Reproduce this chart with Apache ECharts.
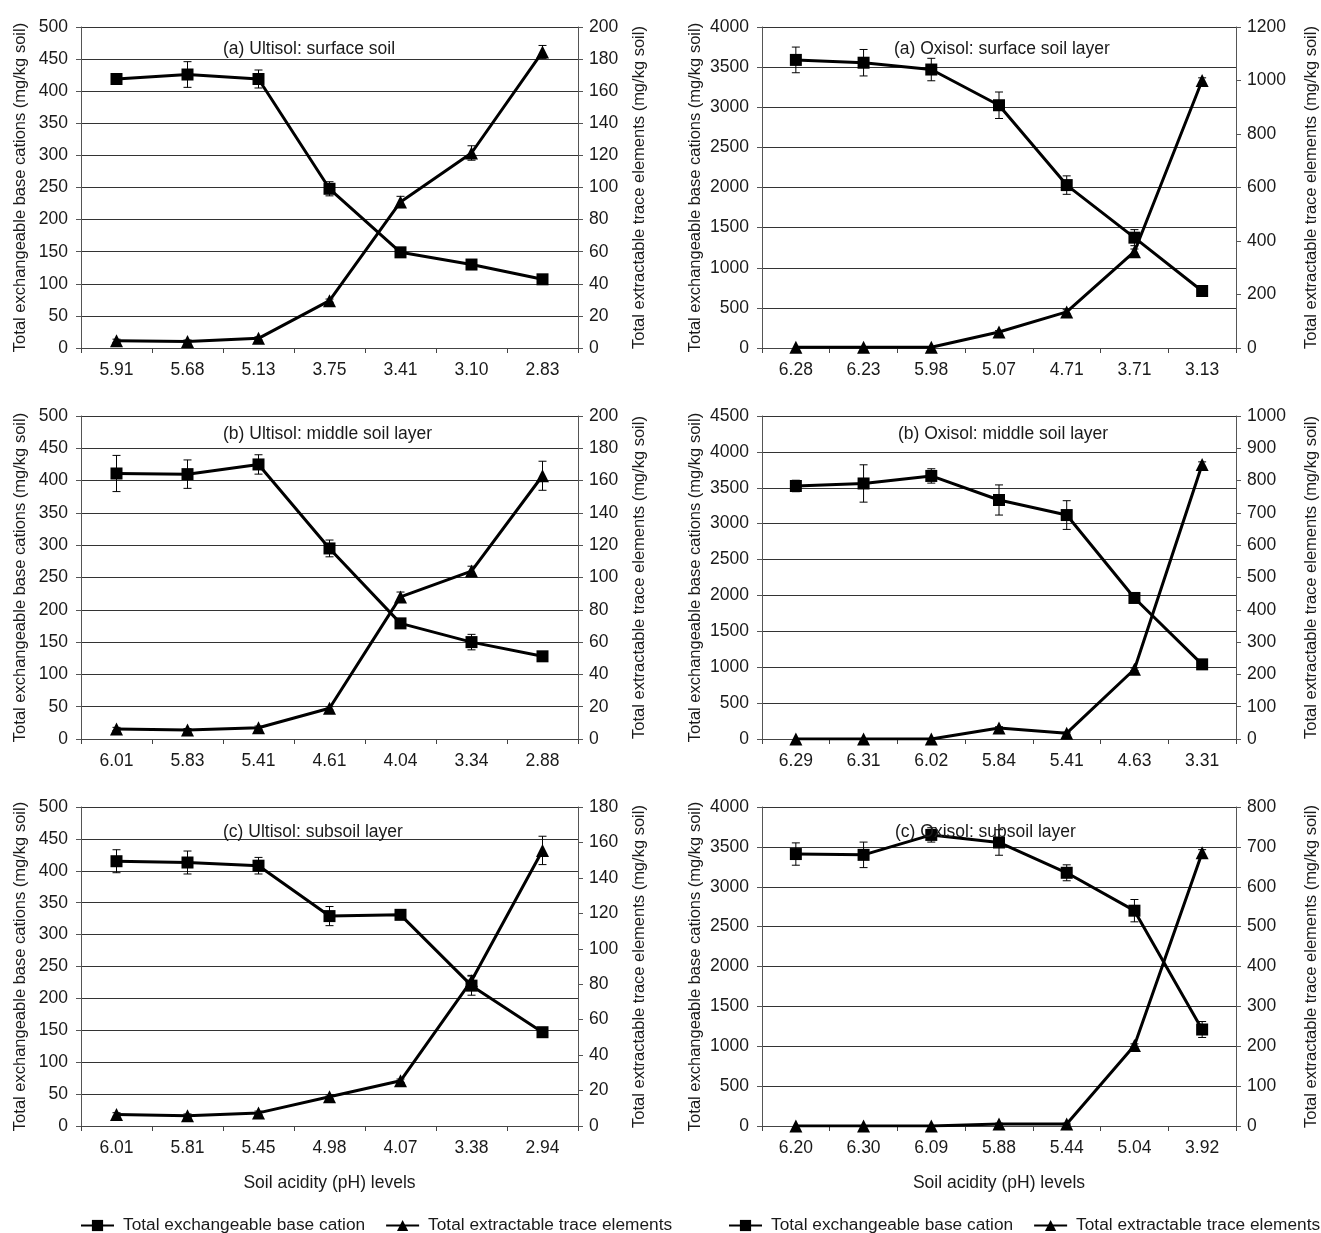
<!DOCTYPE html>
<html>
<head>
<meta charset="utf-8">
<script src="https://cdn.jsdelivr.net/npm/echarts@6/dist/echarts.min.js"></script>
<style>
html,body{margin:0;padding:0;background:#fff;}
#chart{width:1321px;height:1233px;}
</style>
</head>
<body>
<div id="chart"></div>
<script>
// ---------- DATA ----------
const baseName = 'Total exchangeable base cation';
const traceName = 'Total extractable trace elements';
const leftAxisName = 'Total exchangeable base cations (mg/kg soil)';
const rightAxisName = 'Total extractable trace elements (mg/kg soil)';
const xAxisName = 'Soil acidity (pH) levels';

const titles = ['(a) Ultisol: surface soil', '(a) Oxisol: surface soil layer',
  '(b) Ultisol: middle soil layer', '(b) Oxisol: middle soil layer',
  '(c) Ultisol: subsoil layer', '(c) Oxisol: subsoil layer'];

// Ultisol surface
const cats1 = ['5.91','5.68','5.13','3.75','3.41','3.10','2.83'];
const base1 = [419, 426, 419, 248, 149, 130, 107];
const baseErr1 = [5, 20, 14, 11, 4, 5, 4];
const trace1 = [4.5, 4, 6, 29.5, 91, 121.5, 184.5];
const traceErr1 = [1, 1, 1, 1, 3.5, 4.5, 4];
// Oxisol surface
const cats2 = ['6.28','6.23','5.98','5.07','4.71','3.71','3.13'];
const base2 = [3590, 3555, 3470, 3025, 2030, 1375, 710];
const baseErr2 = [160, 165, 140, 165, 115, 100, 30];
const trace2 = [3, 3, 3, 60, 135, 360, 1000];
const traceErr2 = [0, 0, 0, 5, 8, 10, 10];
// Ultisol middle
const cats3 = ['6.01','5.83','5.41','4.61','4.04','3.34','2.88'];
const base3 = [411, 410, 425, 295, 179, 150, 128];
const baseErr3 = [28, 22, 15, 13, 5, 12, 4];
const trace3 = [6.2, 5.5, 7, 19, 88, 104, 163];
const traceErr3 = [1, 1, 1, 1, 3, 3, 9];
// Oxisol middle
const cats4 = ['6.29','6.31','6.02','5.84','5.41','4.63','3.31'];
const base4 = [3525, 3560, 3665, 3330, 3120, 1965, 1040];
const baseErr4 = [80, 260, 100, 210, 200, 60, 30];
const trace4 = [0, 0, 0, 34, 18, 216, 850];
const traceErr4 = [0, 0, 0, 4, 3, 4, 8];
// Ultisol subsoil
const cats5 = ['6.01','5.81','5.45','4.98','4.07','3.38','2.94'];
const base5 = [415, 413, 408, 329, 331, 220, 147];
const baseErr5 = [18, 18, 13, 15, 5, 15, 4];
const trace5 = [6.5, 5.8, 7.4, 16.5, 25.5, 82, 155.5];
const traceErr5 = [1, 1, 1, 1, 1, 3, 8];
// Oxisol subsoil
const cats6 = ['6.20','6.30','6.09','5.88','5.44','5.04','3.92'];
const base6 = [3410, 3400, 3650, 3555, 3175, 2700, 1210];
const baseErr6 = [140, 160, 90, 160, 100, 140, 100];
const trace6 = [0, 0, 0, 5, 5, 202, 685];
const traceErr6 = [0, 0, 0, 2, 2, 4, 8];

// axis scales (max, interval)
const leftMax = [500, 4000, 500, 4500, 500, 4000];
const leftInt = [50, 500, 50, 500, 50, 500];
const rightMax = [200, 1200, 200, 1000, 180, 800];
const rightInt = [20, 200, 20, 100, 20, 100];

// ---------- LAYOUT ----------
const panels = [
  {cats: cats1, base: base1, be: baseErr1, trace: trace1, te: traceErr1},
  {cats: cats2, base: base2, be: baseErr2, trace: trace2, te: traceErr2},
  {cats: cats3, base: base3, be: baseErr3, trace: trace3, te: traceErr3},
  {cats: cats4, base: base4, be: baseErr4, trace: trace4, te: traceErr4},
  {cats: cats5, base: base5, be: baseErr5, trace: trace5, te: traceErr5},
  {cats: cats6, base: base6, be: baseErr6, trace: trace6, te: traceErr6}
];
const gridPos = [
  {left: 81, top: 27, width: 497, height: 321},
  {left: 762, top: 27, width: 477, height: 321},
  {left: 81, top: 416, width: 497, height: 323},
  {left: 762, top: 416, width: 477, height: 323},
  {left: 81, top: 807, width: 497, height: 319},
  {left: 762, top: 807, width: 477, height: 319}
];
const titlePos = [
  {left: 218, top: 35}, {left: 889, top: 35},
  {left: 218, top: 420}, {left: 893, top: 420},
  {left: 218, top: 818}, {left: 890, top: 818}
];
const leftGap = [52, 58, 52, 58, 52, 58];
const rightGap = [53, 67, 53, 67, 53, 67];

const FONT = '"Liberation Sans", Arial, Helvetica, sans-serif';
const TXT = '#1a1a1a';

function errRender(params, api) {
  const x = api.value(0), v = api.value(1), e = api.value(2);
  if (!e) return null;
  const top = api.coord([x, v + e]);
  const bot = api.coord([x, v - e]);
  const cw = 4;
  const st = {stroke: '#000', lineWidth: 1};
  return {
    type: 'group',
    children: [
      {type: 'line', shape: {x1: top[0], y1: top[1], x2: bot[0], y2: bot[1]}, style: st},
      {type: 'line', shape: {x1: top[0] - cw, y1: top[1], x2: top[0] + cw, y2: top[1]}, style: st},
      {type: 'line', shape: {x1: bot[0] - cw, y1: bot[1], x2: bot[0] + cw, y2: bot[1]}, style: st}
    ]
  };
}
const plain = v => String(v);

const grid = [], xAxis = [], yAxis = [], series = [], title = [];
panels.forEach((p, i) => {
  grid.push(Object.assign({containLabel: false}, gridPos[i]));
  title.push(Object.assign({text: titles[i], textStyle: {fontSize: 17.5, fontWeight: 'normal', color: TXT, fontFamily: FONT}}, titlePos[i]));
  const bottomRow = i >= 4;
  xAxis.push({
    type: 'category', gridIndex: i, data: p.cats, boundaryGap: true,
    axisLine: {lineStyle: {color: '#444', width: 1}},
    axisTick: {show: true, length: 5, alignWithLabel: false, lineStyle: {color: '#444'}},
    axisLabel: {fontSize: 17.5, color: TXT, margin: 13, fontFamily: FONT},
    splitLine: {show: false},
    name: bottomRow ? xAxisName : '',
    nameLocation: 'middle', nameGap: 48,
    nameTextStyle: {fontSize: 17.5, color: TXT, fontFamily: FONT}
  });
  yAxis.push({
    type: 'value', gridIndex: i, position: 'left', min: 0, max: leftMax[i], interval: leftInt[i],
    axisLine: {show: true, lineStyle: {color: '#555'}},
    axisTick: {show: true, length: 5, lineStyle: {color: '#555'}},
    axisLabel: {fontSize: 17.5, color: TXT, margin: 13, fontFamily: FONT, formatter: plain},
    splitLine: {show: true, lineStyle: {color: '#333', width: 1}},
    name: leftAxisName, nameLocation: 'middle', nameRotate: 90, nameGap: leftGap[i],
    nameTextStyle: {fontSize: 16.5, color: TXT, fontFamily: FONT}
  });
  yAxis.push({
    type: 'value', gridIndex: i, position: 'right', min: 0, max: rightMax[i], interval: rightInt[i],
    axisLine: {show: true, lineStyle: {color: '#555'}},
    axisTick: {show: true, length: 5, lineStyle: {color: '#555'}},
    axisLabel: {fontSize: 17.5, color: TXT, margin: 11, fontFamily: FONT, formatter: plain},
    splitLine: {show: false},
    name: rightAxisName, nameLocation: 'middle', nameRotate: 90, nameGap: rightGap[i],
    nameTextStyle: {fontSize: 16.5, color: TXT, fontFamily: FONT}
  });
  const yl = 2 * i, yr = 2 * i + 1;
  series.push({
    name: baseName, type: 'line', xAxisIndex: i, yAxisIndex: yl, data: p.base,
    symbol: 'rect', symbolSize: 12, lineStyle: {color: '#000', width: 3},
    itemStyle: {color: '#000'}, z: 3, animation: false
  });
  series.push({
    name: traceName, type: 'line', xAxisIndex: i, yAxisIndex: yr, data: p.trace,
    symbol: 'triangle', symbolSize: 13, lineStyle: {color: '#000', width: 3},
    itemStyle: {color: '#000'}, z: 3, animation: false
  });
  series.push({
    type: 'custom', xAxisIndex: i, yAxisIndex: yl, renderItem: errRender, z: 4,
    data: p.base.map((v, k) => [k, v, p.be[k]]), encode: {x: 0, y: 1}, animation: false, silent: true
  });
  series.push({
    type: 'custom', xAxisIndex: i, yAxisIndex: yr, renderItem: errRender, z: 4,
    data: p.trace.map((v, k) => [k, v, p.te[k]]), encode: {x: 0, y: 1}, animation: false, silent: true
  });
});

const legendCommon = {
  data: [baseName, traceName], orient: 'horizontal', top: 1217, itemWidth: 33, itemHeight: 14,
  itemGap: 20, width: 640, padding: 0,
  textStyle: {fontSize: 17.3, color: TXT, fontFamily: FONT, padding: [0, 0, 0, 4]}, selectedMode: false
};

const option = {
  backgroundColor: '#fff',
  animation: false,
  textStyle: {fontFamily: FONT},
  title: title,
  grid: grid,
  xAxis: xAxis,
  yAxis: yAxis,
  legend: [
    Object.assign({left: 80}, legendCommon),
    Object.assign({left: 728}, legendCommon)
  ],
  series: series
};

const chart = echarts.init(document.getElementById('chart'), null, {renderer: 'canvas'});
chart.setOption(option);
</script>
</body>
</html>
